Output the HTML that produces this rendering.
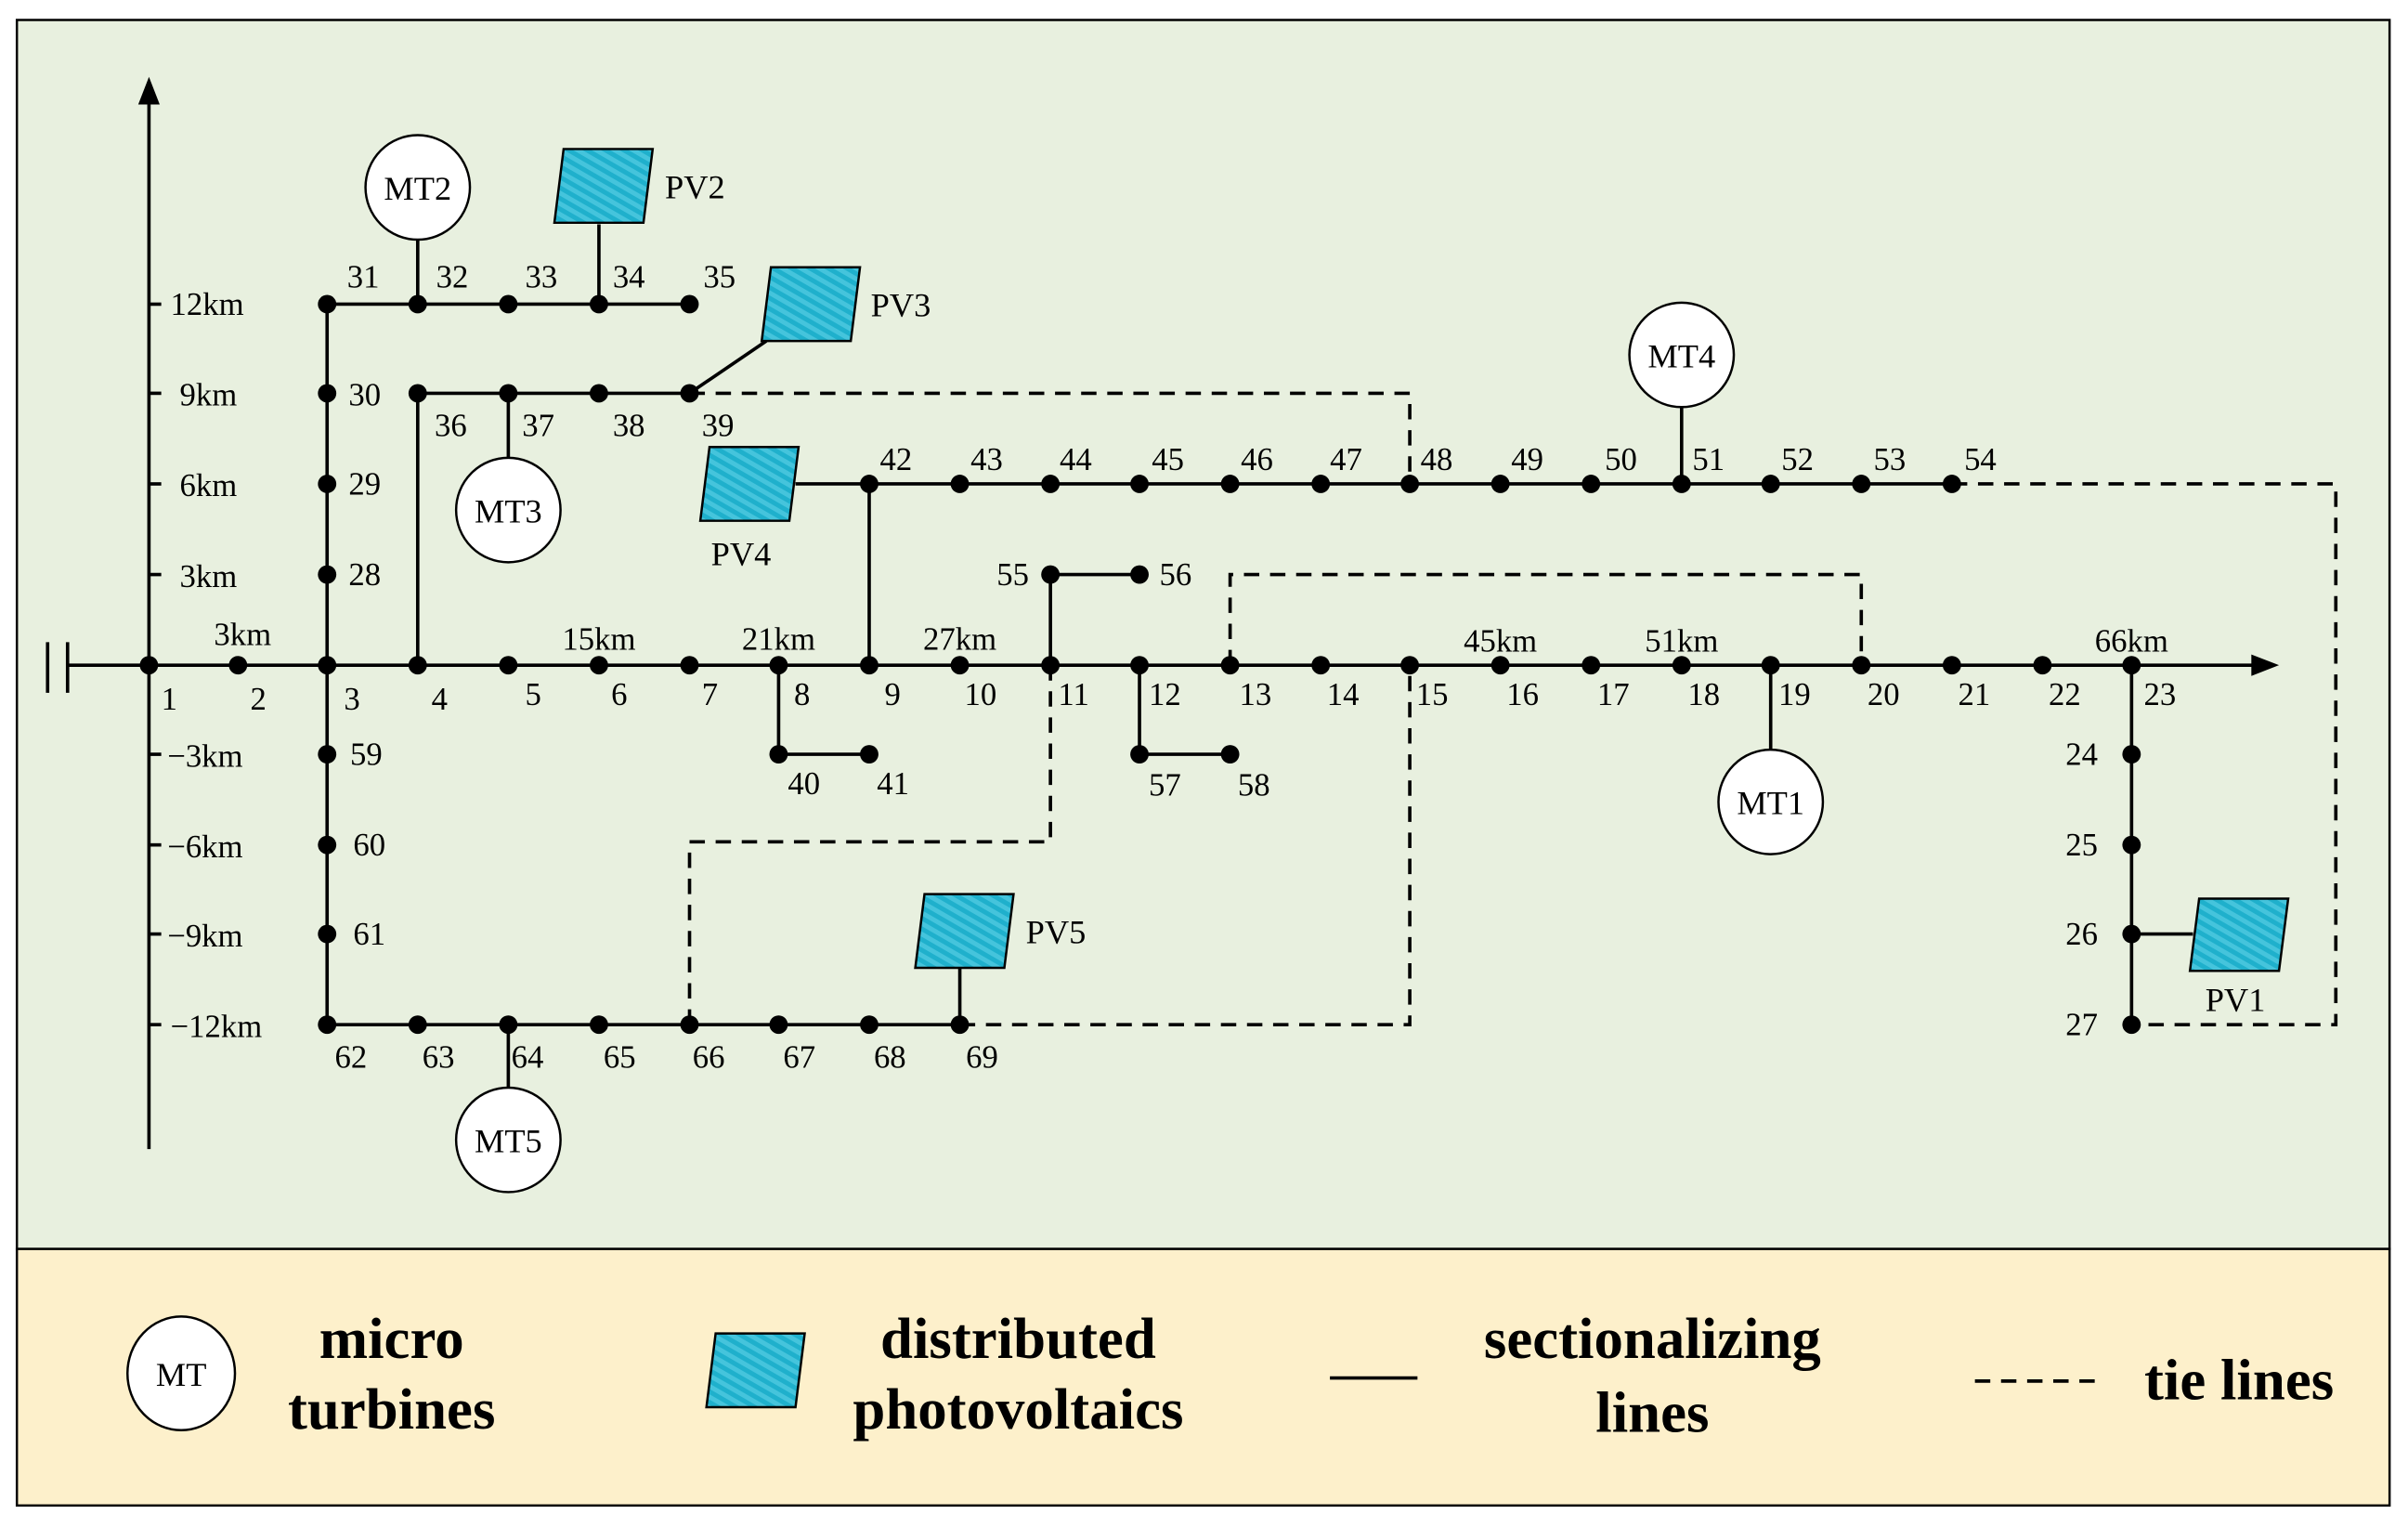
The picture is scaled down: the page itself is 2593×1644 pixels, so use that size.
<!DOCTYPE html>
<html><head><meta charset="utf-8"><style>
html,body{margin:0;padding:0;background:#fff}
svg{display:block}
text{font-family:"Liberation Serif",serif;fill:#000}
</style></head><body>
<svg width="2593" height="1644" viewBox="0 0 1568 994" preserveAspectRatio="none" xmlns="http://www.w3.org/2000/svg">
<defs>
<pattern id="h" width="6" height="6" patternUnits="userSpaceOnUse" patternTransform="rotate(-60)">
<rect width="6" height="6" fill="#1fb0cc"/><rect width="3" height="6" fill="#45c4dc"/>
</pattern>
</defs>
<rect x="11" y="13" width="1545" height="800" fill="#e8f0df" stroke="#000" stroke-width="1.5"/>
<rect x="11" y="813" width="1545" height="167" fill="#fdf0cb" stroke="#000" stroke-width="1.5"/>

<g stroke="#000" stroke-width="2.2" fill="none">
<line x1="97" y1="748" x2="97" y2="62"/>
<line x1="97" y1="198" x2="105" y2="198"/><line x1="97" y1="256" x2="105" y2="256"/><line x1="97" y1="315" x2="105" y2="315"/><line x1="97" y1="374" x2="105" y2="374"/>
<line x1="97" y1="491" x2="105" y2="491"/><line x1="97" y1="550" x2="105" y2="550"/><line x1="97" y1="608" x2="105" y2="608"/><line x1="97" y1="667" x2="105" y2="667"/>
<line x1="31" y1="418" x2="31" y2="451"/><line x1="44" y1="418" x2="44" y2="451"/>
<line x1="44" y1="433" x2="1470" y2="433"/>
<line x1="213" y1="198" x2="213" y2="667"/>
<line x1="213" y1="198" x2="449" y2="198"/>
<line x1="272" y1="156" x2="272" y2="198"/>
<line x1="390" y1="146" x2="390" y2="198"/>
<line x1="272" y1="256" x2="272" y2="433"/>
<line x1="272" y1="256" x2="449" y2="256"/>
<line x1="331" y1="256" x2="331" y2="298"/>
<line x1="449" y1="256" x2="499" y2="222"/>
<line x1="566" y1="315" x2="566" y2="433"/>
<line x1="518" y1="315" x2="1271" y2="315"/>
<line x1="1095" y1="265" x2="1095" y2="315"/>
<line x1="684" y1="374" x2="684" y2="433"/><line x1="684" y1="374" x2="742" y2="374"/>
<line x1="742" y1="433" x2="742" y2="491"/><line x1="742" y1="491" x2="801" y2="491"/>
<line x1="507" y1="433" x2="507" y2="491"/><line x1="507" y1="491" x2="566" y2="491"/>
<line x1="213" y1="667" x2="625" y2="667"/>
<line x1="331" y1="667" x2="331" y2="708"/>
<line x1="625" y1="630" x2="625" y2="667"/>
<line x1="1153" y1="433" x2="1153" y2="488"/>
<line x1="1388" y1="433" x2="1388" y2="667"/>
<line x1="1388" y1="608" x2="1428" y2="608"/>
</g>
<polygon points="97,50 90,68 104,68" fill="#000"/>
<polygon points="1484,433 1466,426 1466,440" fill="#000"/>

<g stroke="#000" stroke-width="2.2" fill="none" stroke-dasharray="10,7">
<polyline points="449,256 918,256 918,315"/>
<polyline points="1271,315 1521,315 1521,667 1388,667"/>
<polyline points="801,433 801,374 1212,374 1212,433"/>
<polyline points="684,433 684,548 449,548 449,667"/>
<polyline points="625,667 918,667 918,433"/>
</g>

<g fill="#000">
<circle cx="97" cy="433" r="6"/><circle cx="155" cy="433" r="6"/><circle cx="213" cy="433" r="6"/><circle cx="272" cy="433" r="6"/><circle cx="331" cy="433" r="6"/><circle cx="390" cy="433" r="6"/><circle cx="449" cy="433" r="6"/><circle cx="507" cy="433" r="6"/><circle cx="566" cy="433" r="6"/><circle cx="625" cy="433" r="6"/><circle cx="684" cy="433" r="6"/><circle cx="742" cy="433" r="6"/><circle cx="801" cy="433" r="6"/><circle cx="860" cy="433" r="6"/><circle cx="918" cy="433" r="6"/><circle cx="977" cy="433" r="6"/><circle cx="1036" cy="433" r="6"/><circle cx="1095" cy="433" r="6"/><circle cx="1153" cy="433" r="6"/><circle cx="1212" cy="433" r="6"/><circle cx="1271" cy="433" r="6"/><circle cx="1330" cy="433" r="6"/><circle cx="1388" cy="433" r="6"/>
<circle cx="213" cy="198" r="6"/><circle cx="213" cy="256" r="6"/><circle cx="213" cy="315" r="6"/><circle cx="213" cy="374" r="6"/><circle cx="213" cy="491" r="6"/><circle cx="213" cy="550" r="6"/><circle cx="213" cy="608" r="6"/><circle cx="213" cy="667" r="6"/>
<circle cx="272" cy="198" r="6"/><circle cx="331" cy="198" r="6"/><circle cx="390" cy="198" r="6"/><circle cx="449" cy="198" r="6"/>
<circle cx="272" cy="256" r="6"/><circle cx="331" cy="256" r="6"/><circle cx="390" cy="256" r="6"/><circle cx="449" cy="256" r="6"/>
<circle cx="566" cy="315" r="6"/><circle cx="625" cy="315" r="6"/><circle cx="684" cy="315" r="6"/><circle cx="742" cy="315" r="6"/><circle cx="801" cy="315" r="6"/><circle cx="860" cy="315" r="6"/><circle cx="918" cy="315" r="6"/><circle cx="977" cy="315" r="6"/><circle cx="1036" cy="315" r="6"/><circle cx="1095" cy="315" r="6"/><circle cx="1153" cy="315" r="6"/><circle cx="1212" cy="315" r="6"/><circle cx="1271" cy="315" r="6"/>
<circle cx="684" cy="374" r="6"/><circle cx="742" cy="374" r="6"/><circle cx="742" cy="491" r="6"/><circle cx="801" cy="491" r="6"/><circle cx="507" cy="491" r="6"/><circle cx="566" cy="491" r="6"/>
<circle cx="272" cy="667" r="6"/><circle cx="331" cy="667" r="6"/><circle cx="390" cy="667" r="6"/><circle cx="449" cy="667" r="6"/><circle cx="507" cy="667" r="6"/><circle cx="566" cy="667" r="6"/><circle cx="625" cy="667" r="6"/>
<circle cx="1388" cy="491" r="6"/><circle cx="1388" cy="550" r="6"/><circle cx="1388" cy="608" r="6"/><circle cx="1388" cy="667" r="6"/>
</g>

<g fill="#fff" stroke="#000" stroke-width="1.5">
<circle cx="272" cy="122" r="34"/><circle cx="331" cy="332" r="34"/><circle cx="1095" cy="231" r="34"/><circle cx="1153" cy="522" r="34"/><circle cx="331" cy="742" r="34"/>
<ellipse cx="118" cy="894" rx="35" ry="37"/>
</g>
<g font-size="22" text-anchor="middle">
<text x="272" y="130">MT2</text><text x="331" y="340">MT3</text><text x="1095" y="239">MT4</text><text x="1153" y="530">MT1</text><text x="331" y="750">MT5</text>
<text x="118" y="902">MT</text>
</g>
<g fill="url(#h)" stroke="#000" stroke-width="1.5">
<polygon points="367,97 425,97 419,145 361,145"/>
<polygon points="502,174 560,174 554,222 496,222"/>
<polygon points="462,291 520,291 514,339 456,339"/>
<polygon points="602,582 660,582 654,630 596,630"/>
<polygon points="1432,585 1490,585 1484,632 1426,632"/>
<polygon points="466,868 524,868 518,916 460,916"/>
</g>
<g font-size="22">
<text x="433" y="129">PV2</text><text x="567" y="206">PV3</text><text x="463" y="368">PV4</text><text x="668" y="614">PV5</text><text x="1436" y="658">PV1</text>
</g>

<g font-size="21">
<text x="111" y="205">12km</text><text x="117" y="264">9km</text><text x="117" y="323">6km</text><text x="117" y="382">3km</text>
<text x="109" y="499">−3km</text><text x="109" y="558">−6km</text><text x="109" y="616">−9km</text><text x="111" y="675">−12km</text>
</g>
<g font-size="21" text-anchor="middle">
<text x="158" y="420">3km</text><text x="390" y="423">15km</text><text x="507" y="423">21km</text><text x="625" y="423">27km</text><text x="977" y="424">45km</text><text x="1095" y="424">51km</text><text x="1388" y="424">66km</text>
</g>
<g font-size="21">
<text x="105" y="462">1</text><text x="163" y="462">2</text><text x="224" y="462">3</text><text x="281" y="462">4</text><text x="342" y="459">5</text><text x="398" y="459">6</text><text x="457" y="459">7</text><text x="517" y="459">8</text><text x="576" y="459">9</text><text x="628" y="459">10</text><text x="689" y="459">11</text><text x="748" y="459">12</text><text x="807" y="459">13</text><text x="864" y="459">14</text><text x="922" y="459">15</text><text x="981" y="459">16</text><text x="1040" y="459">17</text><text x="1099" y="459">18</text><text x="1158" y="459">19</text><text x="1216" y="459">20</text><text x="1275" y="459">21</text><text x="1334" y="459">22</text><text x="1396" y="459">23</text>
<text x="1345" y="498">24</text><text x="1345" y="557">25</text><text x="1345" y="615">26</text><text x="1345" y="674">27</text>
<text x="227" y="264">30</text><text x="227" y="322">29</text><text x="227" y="381">28</text>
<text x="228" y="498">59</text><text x="230" y="557">60</text><text x="230" y="615">61</text>
<text x="218" y="695">62</text><text x="275" y="695">63</text><text x="333" y="695">64</text><text x="393" y="695">65</text><text x="451" y="695">66</text><text x="510" y="695">67</text><text x="569" y="695">68</text><text x="629" y="695">69</text>
<text x="226" y="187">31</text><text x="284" y="187">32</text><text x="342" y="187">33</text><text x="399" y="187">34</text><text x="458" y="187">35</text>
<text x="283" y="284">36</text><text x="340" y="284">37</text><text x="399" y="284">38</text><text x="457" y="284">39</text>
<text x="573" y="306">42</text><text x="632" y="306">43</text><text x="690" y="306">44</text><text x="750" y="306">45</text><text x="808" y="306">46</text><text x="866" y="306">47</text><text x="925" y="306">48</text><text x="984" y="306">49</text><text x="1045" y="306">50</text><text x="1102" y="306">51</text><text x="1160" y="306">52</text><text x="1220" y="306">53</text><text x="1279" y="306">54</text>
<text x="649" y="381">55</text><text x="755" y="381">56</text><text x="748" y="518">57</text><text x="806" y="518">58</text><text x="513" y="517">40</text><text x="571" y="517">41</text>
</g>

<g font-size="38" font-weight="bold" text-anchor="middle">
<text x="255" y="884">micro</text><text x="255" y="930">turbines</text>
<text x="663" y="884">distributed</text><text x="663" y="930">photovoltaics</text>
<text x="1076" y="884">sectionalizing</text><text x="1076" y="932">lines</text>
<text x="1458" y="911">tie lines</text>
</g>
<line x1="866" y1="897" x2="923" y2="897" stroke="#000" stroke-width="2.2"/>
<line x1="1286" y1="899" x2="1366" y2="899" stroke="#000" stroke-width="2.2" stroke-dasharray="10,7"/>
</svg>
</body></html>
